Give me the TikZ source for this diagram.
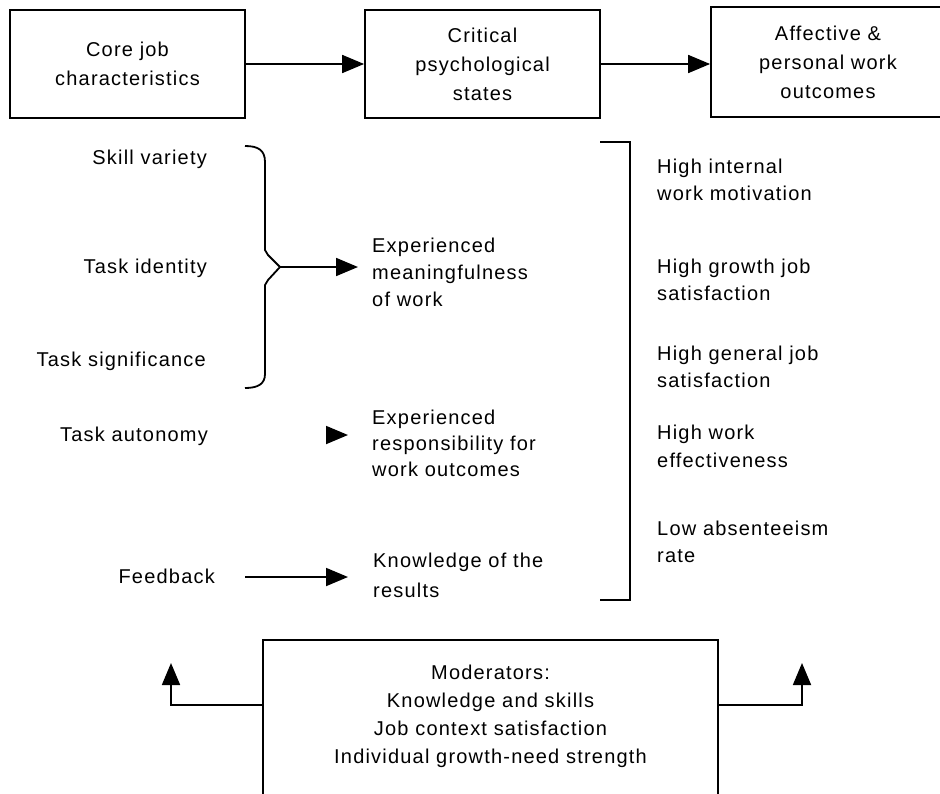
\documentclass[tikz,border=0pt]{standalone}
\usepackage{fontspec}
\setmainfont{Liberation Sans}[LetterSpace=6]
\usetikzlibrary{arrows.meta}
\begin{document}
\begin{tikzpicture}[x=1pt,y=-1pt,
  every node/.style={font=\fontsize{20}{27}\selectfont, inner sep=0pt},
  ln/.style={line width=1.8pt},
  boxnode/.style={draw, line width=1.8pt, align=center, font=\fontsize{20}{29}\selectfont},
  arr/.style={ln, -{Triangle[length=22pt,width=18pt]}},
  lbl/.style={anchor=mid east},
  rtxt/.style={anchor=north west, align=left},
]
\fill[white] (0,0) rectangle (940,793);
\useasboundingbox (0,0) rectangle (940,793);
\clip (0,0) rectangle (940,793);

% top boxes
\node[boxnode, minimum width=235pt, minimum height=108pt] (core) at (127.5,64) {Core job\\characteristics};
\node[boxnode, minimum width=235pt, minimum height=108pt] (crit) at (482.5,64) {Critical\\psychological\\states};
\node[boxnode, minimum width=234pt, minimum height=110pt] (aff) at (828,62) {Affective \&\\personal work\\outcomes};
\draw[arr] (core) -- (crit);
\draw[arr] (crit.east) -- (crit.east -| aff.west);

% left characteristics
\node[lbl] (sv) at (207,162) {Skill variety};
\node[lbl] (ti) at (207,271) {Task identity};
\node[lbl] (ts) at (206,364) {Task significance};
\node[lbl] (ta) at (208,439) {Task autonomy};
\node[lbl] (fb) at (215,581) {Feedback};

% brace
\coordinate (bt) at (280,267);
\draw[ln] (245,146) .. controls (258,146) and (265,150) .. (265,162) -- (265,250)
  -- (268,255) -- (bt) -- (268,280) -- (265,285) -- (265,374)
  .. controls (265,384) and (258,388) .. (245,388);

% psychological states
\node[rtxt] (mean) at (372,238) {Experienced\\meaningfulness\\of work};
\node[rtxt, font=\fontsize{20}{26}\selectfont] (resp) at (372,410) {Experienced\\responsibility for\\work outcomes};
\node[rtxt, font=\fontsize{20}{30}\selectfont] (know) at (373,553) {Knowledge of the\\results};

\coordinate (mt) at (358,267);
\draw[arr] (bt) -- (mt);
\coordinate (rt) at (348,435);
\coordinate (rb) at (329,435);
\draw[arr] (rb) -- (rt);
\coordinate (kt) at (348,577);
\coordinate (fs) at (245,577);
\draw[arr] (fs) -- (kt);

% right bracket
\coordinate (b1) at (600,142);
\coordinate (b2) at (630,142);
\coordinate (b3) at (630,600);
\coordinate (b4) at (600,600);
\draw[ln] (b1) -- (b2) -- (b3) -- (b4);

% outcomes
\node[rtxt] (o1) at (657,159) {High internal\\work motivation};
\node[rtxt] (o2) at (657,259) {High growth job\\satisfaction};
\node[rtxt] (o3) at (657,346) {High general job\\satisfaction};
\node[rtxt, font=\fontsize{20}{28}\selectfont] (o4) at (657,425) {High work\\effectiveness};
\node[rtxt] (o5) at (657,521) {Low absenteeism\\rate};

% moderators
\node[draw, line width=1.8pt, anchor=north, minimum width=455pt, minimum height=200pt] (mod) at (490.5,639) {};
\node[align=center, font=\fontsize{20}{28}\selectfont] (modt) at (490.5,716) {Moderators:\\Knowledge and skills\\Job context satisfaction\\Individual growth-need strength};
\coordinate (ml) at (171,663);
\coordinate (mr) at (802,663);
\draw[arr] ([yshift=-66pt]mod.north west) -| (ml);
\draw[arr] ([yshift=-66pt]mod.north east) -| (mr);
\end{tikzpicture}
\end{document}
